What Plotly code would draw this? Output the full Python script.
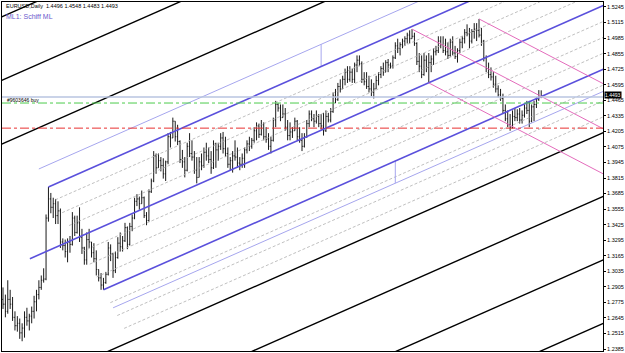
import plotly.graph_objects as go

# ---------------- data (EURUSD daily, prices in pips: 13740 -> 1.3740) ----------------
high = [12900,12840,12960,12880,12820,12700,12660,12640,12600,12700,12730,12680,12740,12830,12880,12960,13000,13060,13510,13740,
        13690,13650,13640,13620,13560,13310,13300,13310,13330,13530,13500,13500,13570,13390,13240,13360,13390,13280,13270,13210,
        13050,13020,12980,13030,13280,13260,13190,13200,13320,13360,13330,13440,13410,13440,13510,13650,13680,13660,13710,13660,
        13530,13720,13810,14040,14020,14020,13990,13980,13960,14190,14200,14320,14290,14260,14130,14050,13990,14110,14190,14130,
        14040,13990,13990,14020,14070,14110,14070,14040,14130,14110,14110,14190,14200,14160,14070,13990,14040,14130,14070,13990,
        14020,14070,14130,14160,14150,14240,14280,14270,14300,14280,14240,14190,14160,14320,14460,14440,14430,14430,14400,14300,
        14280,14240,14320,14300,14240,14190,14190,14300,14380,14380,14350,14380,14350,14350,14360,14380,14360,14400,14530,14560,
        14610,14640,14670,14730,14750,14750,14730,14780,14840,14840,14790,14700,14700,14670,14640,14610,14670,14700,14750,14780,
        14800,14810,14780,14840,14950,14980,14950,14980,15000,15030,15050,15060,15030,14950,14860,14840,14860,14840,14860,14840,
        14900,14920,15000,15000,15000,14980,14950,14980,15000,14920,14900,14980,15000,15060,15100,15070,15060,15110,15110,15145,
        15070,14970,14840,14780,14740,14700,14670,14590,14560,14520,14430,14380,14350,14380,14400,14390,14400,14380,14430,14460,
        14460,14430,14460,14490,14550,14548]
low = [12720,12650,12680,12720,12620,12540,12530,12470,12450,12480,12580,12540,12600,12640,12700,12800,12880,12940,12960,13450,
       13520,13480,13430,13430,13230,13210,13150,13110,13190,13250,13330,13350,13280,13180,13090,13090,13230,13150,13110,13000,
       12950,12880,12880,12930,13000,13120,12980,13020,13140,13200,13200,13280,13220,13250,13370,13470,13580,13550,13600,13480,
       13420,13450,13690,13780,13850,13900,13870,13810,13790,13930,14070,14150,14120,14090,13940,13900,13820,13870,13990,13960,
       13850,13770,13820,13880,13900,13960,13940,13850,13890,13900,13960,14050,14020,13990,13900,13880,13860,13960,13900,13880,
       13900,13900,14020,14040,14060,14110,14130,14150,14170,14130,14110,14050,14020,14120,14240,14370,14290,14320,14210,14130,
       14130,14150,14210,14130,14110,14040,14070,14150,14240,14290,14240,14270,14240,14220,14170,14200,14280,14280,14360,14440,
       14460,14530,14560,14590,14610,14620,14610,14610,14700,14750,14610,14590,14560,14530,14500,14480,14560,14590,14650,14670,
       14700,14700,14730,14730,14810,14860,14840,14900,14920,14940,14940,14980,14920,14760,14700,14650,14670,14700,14610,14700,
       14760,14840,14860,14900,14860,14840,14810,14830,14840,14810,14780,14860,14900,14940,15000,14900,14940,14980,14960,14990,
       14920,14790,14700,14650,14630,14570,14530,14490,14460,14350,14290,14240,14210,14230,14290,14290,14270,14270,14320,14350,
       14240,14280,14290,14400,14460,14483]
close = [12760,12700,12800,12760,12650,12580,12600,12520,12560,12650,12620,12660,12700,12780,12840,12900,12960,12970,13480,13640,
         13570,13600,13500,13540,13280,13250,13200,13280,13260,13480,13360,13440,13320,13230,13130,13300,13280,13190,13140,13050,
         12980,12920,12940,13010,13230,13180,13040,13150,13270,13240,13290,13400,13260,13410,13480,13620,13640,13600,13650,13500,
         13460,13700,13790,14000,13900,13960,13920,13850,13950,14160,14150,14290,14160,14120,13970,13950,13880,14080,14020,13990,
         13880,13820,13950,13920,14030,14000,13970,13900,14100,14050,14080,14150,14060,14020,13930,13960,14000,13990,13940,13930,
         13980,14050,14100,14080,14130,14210,14250,14180,14260,14160,14140,14080,14130,14300,14430,14400,14320,14350,14240,14170,
         14200,14210,14290,14160,14130,14080,14160,14270,14350,14310,14290,14330,14270,14250,14210,14330,14300,14370,14500,14470,
         14580,14560,14640,14700,14640,14700,14640,14760,14800,14770,14640,14620,14580,14560,14530,14560,14630,14680,14730,14700,
         14780,14760,14750,14820,14920,14900,14930,14960,14980,15010,14980,15000,14940,14790,14750,14680,14800,14740,14780,14810,
         14870,14880,14960,14930,14880,14870,14840,14950,14860,14830,14880,14950,14980,15030,15020,14960,15040,15060,15050,15010,
         14960,14820,14730,14680,14660,14600,14560,14510,14480,14380,14310,14260,14240,14330,14320,14350,14300,14340,14400,14380,
         14290,14410,14430,14470,14496,14493]
first_open = 12800

# pitchfork anchors: (bar index, price)
ml_start = (11.25, 1.3140)
ml_high = (19, 1.3740)
ml_low = (42, 1.2880)
pink_a = (171, 1.5060)
pink_b = (178, 1.4610)
pink_c = (199, 1.5145)
connector_x = [133, 164]

bid_price = 1.4493
buy_price = 1.4442
stop_price = 1.4232
tick_vals = [1.5245, 1.5115, 1.4985, 1.4855, 1.4725, 1.4595, 1.4465, 1.4335, 1.4205, 1.4075, 1.3945, 1.3815,
             1.3685, 1.3555, 1.3425, 1.3295, 1.3165, 1.3035, 1.2905, 1.2775, 1.2645, 1.2515, 1.2385]

# ---------------- build ----------------
H = [v / 10000 for v in high]
L = [v / 10000 for v in low]
C = [v / 10000 for v in close]
O = [first_open / 10000] + C[:-1]
X = list(range(len(C)))

X_MIN, X_MAX = -0.4167, 250.83
Y_MIN, Y_MAX = 1.23684, 1.52867

fig = go.Figure()

# blue (Schiff) pitchfork
mid = ((ml_high[0] + ml_low[0]) / 2, (ml_high[1] + ml_low[1]) / 2)
slope = (mid[1] - ml_start[1]) / (mid[0] - ml_start[0])
def med(x):
    return ml_start[1] + slope * (x - ml_start[0])
w = ml_high[1] - med(ml_high[0])

def par(k, x):
    return med(x) + k * w

def handle_point(k):
    t = (1 - k) / 2
    return ml_high[0] + (ml_low[0] - ml_high[0]) * t

def seg(x0, y0, x1, y1, color, width, dash="solid"):
    fig.add_trace(go.Scatter(x=[x0, x1], y=[y0, y1], mode="lines",
                             line=dict(color=color, width=width, dash=dash),
                             hoverinfo="skip", showlegend=False))

XR = 260
# dashed reaction lines
for k in [-1.75, -1.5, -1.25, -0.75, -0.5, -0.25, 0.25, 0.5, 0.75]:
    xs = handle_point(k)
    seg(xs, par(k, xs), XR, par(k, XR), "#b0b0b0", 0.8, "3px,2px")

# thin warning lines
for k in [1.35, -1.35]:
    xs = handle_point(k)
    seg(xs, par(k, xs), XR, par(k, XR), "#a6a6ee", 1)
seg(connector_x[0], par(1, connector_x[0]), connector_x[0], par(1.35, connector_x[0]), "#a6a6ee", 1)
seg(connector_x[1], par(-1, connector_x[1]), connector_x[1], par(-1.35, connector_x[1]), "#a6a6ee", 1)

# black outer parallels
for k in [2, 3, 4, -2, -3, -4, -5]:
    seg(-5, par(k, -5), XR, par(k, XR), "#000000", 1.4)

# thick blue lines
seg(ml_start[0], ml_start[1], XR, med(XR), "#5a50dc", 1.6)
seg(ml_high[0], ml_high[1], XR, par(1, XR), "#5a50dc", 1.6)
seg(ml_low[0], ml_low[1], XR, par(-1, XR), "#5a50dc", 1.6)

# pink Andrews pitchfork
pm = ((pink_b[0] + pink_c[0]) / 2, (pink_b[1] + pink_c[1]) / 2)
ps = (pm[1] - pink_a[1]) / (pm[0] - pink_a[0])
for (px, py) in [pink_a, pink_b, pink_c]:
    seg(px, py, XR, py + ps * (XR - px), "#e46cbc", 1)

# horizontal lines
seg(X_MIN, bid_price, X_MAX, bid_price, "#b8c4e0", 1.5)
seg(X_MIN, buy_price, X_MAX, buy_price, "#4ccc4c", 1, "dashdot")
seg(X_MIN, stop_price, X_MAX, stop_price, "#e83030", 1, "dashdot")

# price bars
fig.add_trace(go.Ohlc(x=X, open=O, high=H, low=L, close=C,
                      increasing=dict(line=dict(color="#1a1a1a", width=1)),
                      decreasing=dict(line=dict(color="#1a1a1a", width=1)),
                      tickwidth=0.35, hoverinfo="skip", showlegend=False))

fig.add_annotation(x=0.003, y=1 - 4.5 / 350, xref="paper", yref="paper", text="EURUSD,Daily  1.4496 1.4548 1.4483 1.4493",
                   showarrow=False, xanchor="left", yanchor="middle",
                   font=dict(family="Liberation Sans", size=5.5, color="#000000"))
fig.add_annotation(x=0.003, y=1 - 14.5 / 350, xref="paper", yref="paper", text="ML1: Schiff ML",
                   showarrow=False, xanchor="left", yanchor="middle",
                   font=dict(family="Liberation Sans", size=7, color="#6a5acd"))
fig.add_annotation(x=0.005, y=(bid_price + buy_price) / 2, xref="paper", yref="y", text="#9603646 buy",
                   showarrow=False, xanchor="left", yanchor="middle",
                   font=dict(family="Liberation Sans", size=5, color="#000000"))
fig.add_annotation(x=1.0, y=bid_price, xref="paper", yref="y", text="1.4493",
                   showarrow=False, xanchor="left", yanchor="middle", bgcolor="#000000",
                   borderpad=0, xshift=1, yshift=2,
                   font=dict(family="Liberation Sans", size=5, color="#ffffff"))

fig.update_layout(
    width=625, height=353,
    margin=dict(l=1, r=21, t=1, b=2),
    paper_bgcolor="#ffffff", plot_bgcolor="#ffffff",
    showlegend=False,
    xaxis=dict(range=[X_MIN, X_MAX], showgrid=False, zeroline=False, showticklabels=False,
               rangeslider=dict(visible=False), showline=True, linecolor="#000000", linewidth=1, mirror=True),
    yaxis=dict(range=[Y_MIN, Y_MAX], side="right", showgrid=False, zeroline=False,
               tickvals=tick_vals, ticktext=["%.4f" % v for v in tick_vals],
               ticks="outside", ticklen=2, tickcolor="#000000",
               tickfont=dict(family="Liberation Sans", size=5.5, color="#000000"),
               showline=True, linecolor="#000000", linewidth=1, mirror=True),
)

fig.write_html("out.html")
